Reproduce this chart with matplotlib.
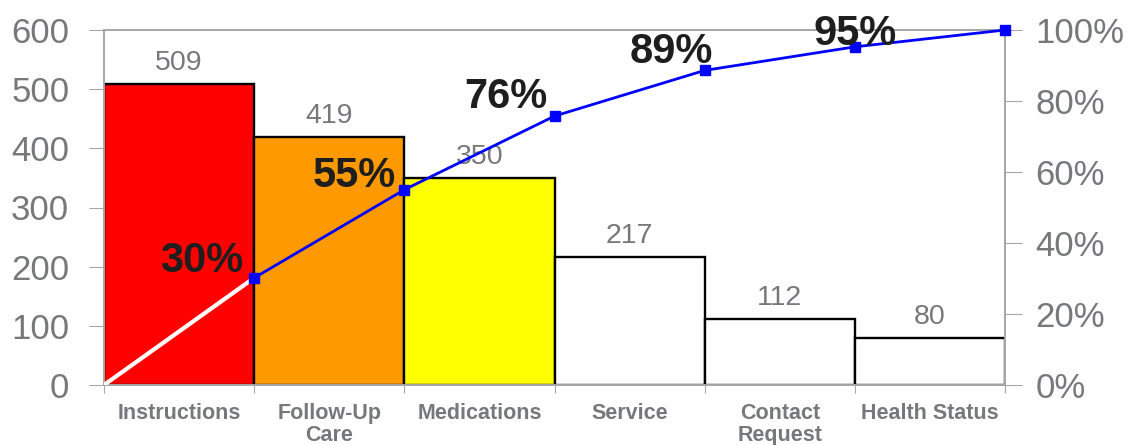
import numpy as np
import matplotlib.pyplot as plt
from matplotlib.ticker import FuncFormatter

plt.rcParams['font.family'] = ['Liberation Sans', 'DejaVu Sans']

categories = ['Instructions', 'Follow-Up\nCare', 'Medications', 'Service', 'Contact\nRequest', 'Health Status']
counts = [509, 419, 350, 217, 112, 80]
bar_colors = ['#FF0000', '#FF9900', '#FFFF00', '#FFFFFF', '#FFFFFF', '#FFFFFF']
pct_labels = ['30%', '55%', '76%', '89%', '95%']

# where each percent label sits relative to its marker (pixels, right edge / baseline)
pct_offsets = [(-11, 6), (-8, 3), (-7, 8), (8, 7), (42, 2)]

gray = '#77787B'
spine_gray = '#A6A6A6'

cum = np.cumsum(counts) / np.sum(counts) * 100
x = np.arange(len(counts))

fig = plt.figure(figsize=(11.33, 4.45), dpi=100)
ax = fig.add_axes([104 / 1133, 1 - 385 / 445, 901 / 1133, 355 / 445])

ax.bar(x, counts, width=1, align='edge', color=bar_colors, edgecolor='black', linewidth=1.7, zorder=2)
for xi, c in zip(x, counts):
    ax.annotate(str(c), (xi + 0.5, c), xytext=(0, 14), textcoords='offset pixels',
                ha='center', va='baseline', fontsize=20.5, color=gray, zorder=3)

ax.set_xlim(0, len(counts))
ax.set_ylim(0, 600)
ax.set_yticks(range(0, 601, 100))
ax.set_xticks(range(len(counts) + 1))
ax.set_xticklabels([])
ax.set_xticks(x + 0.5, minor=True)
ax.set_xticklabels(categories, minor=True, fontsize=15.5, fontweight='bold', color=gray, linespacing=1.08)
ax.tick_params(axis='x', which='major', length=6, color=spine_gray, direction='out')
ax.tick_params(axis='x', which='minor', length=0, pad=13)
ax.tick_params(axis='y', length=11, color=spine_gray, labelsize=25, labelcolor=gray, pad=14)

ax2 = ax.twinx()
ax2.set_ylim(0, 100)
ax2.set_yticks(range(0, 101, 20))
ax2.yaxis.set_major_formatter(FuncFormatter(lambda v, p: f'{v:.0f}%'))
ax2.tick_params(axis='y', length=12, color=spine_gray, labelsize=25, labelcolor=gray, pad=10)

ax2.plot([0, 1], [0, cum[0]], color='white', linewidth=3, zorder=4)
ax2.plot(x + 1, cum, color='#0000FF', linewidth=2, marker='s', markersize=7, zorder=5, clip_on=False)
for xi, v, lab, off in zip(x + 1, cum, pct_labels, pct_offsets):
    ax2.annotate(lab, (xi, v), xytext=off, textcoords='offset pixels',
                 ha='right', va='baseline', fontsize=30, fontweight='bold', color='#1E1E1E', zorder=6)

for a in (ax, ax2):
    for s in a.spines.values():
        s.set_color(spine_gray)
        s.set_linewidth(1.2)
ax.set_zorder(1)
ax2.set_zorder(2)
ax2.patch.set_visible(False)

fig.savefig('out.png', dpi=100)
